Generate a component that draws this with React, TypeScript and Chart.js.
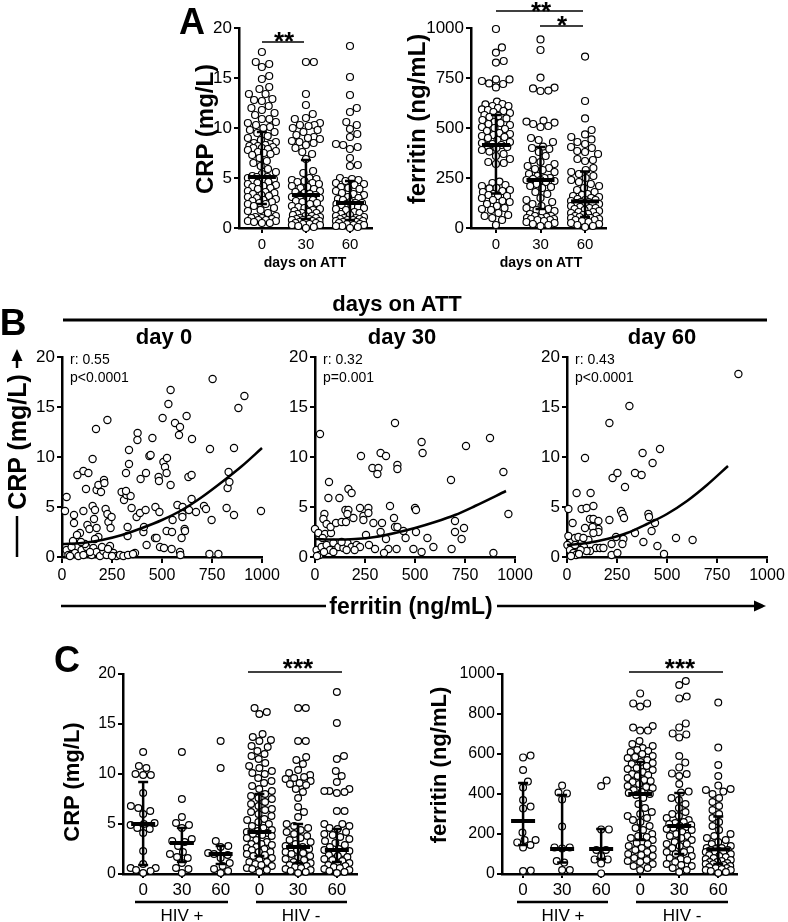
import React, { useEffect, useRef } from "react";
import { Chart, registerables } from "chart.js";
Chart.register(...registerables);

const FONT = "'Liberation Sans', Arial, Helvetica, sans-serif";

// ---------------- Panel A : dot plots by days on ATT ----------------
const dayTicks = ["0", "30", "60"];
const crpA_d0 = [17.6,16.6,16.4,16.1,15.2,14.9,14.1,13.9,13.4,13.4,12.9,12.8,12.7,12.2,12.0,11.8,11.5,11.3,10.9,10.9,10.6,10.5,10.3,10.1,10.0,9.8,9.6,9.5,9.2,9.0,8.8,8.6,8.5,8.4,8.3,8.2,8.2,8.1,8.0,8.0,7.9,7.8,7.7,7.6,7.5,7.4,7.3,7.0,6.7,6.5,6.2,5.9,5.6,5.4,5.2,5.1,5.1,5.0,4.9,4.8,4.7,4.6,4.5,4.4,4.3,4.2,4.1,4.0,3.9,3.7,3.6,3.5,3.4,3.3,3.2,3.1,3.0,2.9,2.8,2.7,2.6,2.5,2.4,2.4,2.2,2.0,1.8,1.7,1.5,1.2,1.1,1.0,1.0,0.9,0.8,0.8,0.7,0.7,0.6,0.5,0.5];
const crpA_d30 = [16.6,16.6,13.4,12.3,11.4,11.0,10.9,10.5,10.3,10.3,10.2,10.0,9.8,9.6,9.3,9.1,9.0,8.9,8.7,8.6,8.5,8.3,8.0,7.6,7.4,6.9,5.7,5.5,5.0,4.9,4.8,4.7,4.6,4.5,4.4,4.2,4.1,4.0,3.9,3.7,3.6,3.5,3.4,3.3,3.2,3.1,3.0,2.9,2.8,2.7,2.6,2.5,2.4,2.2,2.1,2.0,1.9,1.8,1.7,1.6,1.5,1.5,1.4,1.3,1.2,1.2,1.1,1.0,1.0,0.9,0.9,0.8,0.8,0.7,0.7,0.6,0.6,0.5,0.5,0.4,0.4,0.3,0.3,0.2,0.1,0.0];
const crpA_d60 = [18.2,15.1,13.3,12.0,11.6,10.6,10.3,9.9,9.4,9.1,8.4,8.3,8.1,7.9,7.0,6.3,6.2,5.0,4.9,4.8,4.7,4.5,4.4,4.3,4.1,4.0,3.9,3.7,3.5,3.4,3.3,3.1,3.0,2.9,2.8,2.6,2.5,2.5,2.4,2.4,2.3,2.2,2.1,2.0,1.9,1.8,1.6,1.5,1.4,1.3,1.2,1.1,1.0,1.0,0.9,0.9,0.8,0.8,0.7,0.7,0.6,0.6,0.5,0.5,0.4,0.4,0.3,0.3,0.2,0.2,0.1,0.0];
const crpA_median = [5.1, 3.3, 2.5];
const crpA_q1 = [2.4, 0.9, 0.8];
const crpA_q3 = [9.6, 6.8, 4.7];

const ferA_d0 = [995,903,877,835,827,743,743,735,723,720,703,632,620,618,610,610,600,593,590,585,580,575,565,560,555,548,540,530,525,520,515,505,500,495,485,475,470,465,460,455,450,440,430,425,420,415,410,405,400,390,382,370,360,345,330,325,320,232,225,215,210,200,198,190,185,180,170,165,160,160,150,140,135,130,120,110,100,95,90,75,65,60,50,40,15];
const ferA_d30 = [943,890,752,702,698,687,685,537,532,527,520,510,505,450,440,430,407,400,395,380,360,340,330,320,310,300,295,290,280,270,260,250,250,245,240,240,235,230,220,210,205,200,180,170,150,140,130,120,110,100,95,90,85,80,70,60,60,55,50,50,45,45,40,40,35,30,25,20,15,10];
const ferA_d60 = [857,635,548,490,468,455,443,430,420,405,400,385,380,370,345,340,335,300,290,280,270,260,250,240,230,220,210,200,190,180,170,165,160,155,150,145,140,140,135,130,130,125,120,120,115,110,105,100,100,95,90,85,80,80,75,70,65,60,60,55,50,50,50,45,40,40,35,30,25,20,15,10,5];
const ferA_median = [415, 240, 133];
const ferA_q1 = [173, 95, 55];
const ferA_q3 = [565, 405, 283];

// ---------------- Panel B : CRP vs ferritin per day ----------------
const b0Fer = [23,15,60,60,77,107,132,120,107,127,90,137,153,153,165,160,170,173,182,195,173,182,165,210,212,218,227,232,243,248,227,298,310,323,343,320,320,335,335,328,328,348,373,390,418,365,378,377,393,420,407,410,423,437,443,452,465,473,467,487,483,485,503,507,515,525,523,490,510,532,543,543,523,550,548,553,565,585,590,577,603,602,602,590,592,598,613,615,623,632,648,650,648,635,670,710,720,740,753,748,737,782,823,828,837,833,860,860,882,912,995,23,32,48,65,82,98,107,123,148,157,173,190,207,223,240,257,273,290,307,40,140,200,230,115,55,75,95,250,330,355];
const b0Crp = [6.0,4.6,4.2,3.4,8.2,8.6,8.4,6.8,4.6,3.2,2.4,2.8,9.8,5.1,4.7,3.8,12.8,6.7,7.2,6.5,2.9,2.0,1.8,7.7,7.4,4.8,4.3,3.5,2.9,4.0,13.7,6.5,5.7,6.2,6.1,6.6,8.4,9.3,10.7,3.0,2.1,4.9,4.0,4.4,4.7,0.4,12.4,11.7,7.8,8.4,2.5,3.0,1.2,10.1,10.2,11.9,1.9,1.9,5.0,4.5,8.0,7.6,13.9,9.5,9.0,9.9,8.4,1.0,0.9,15.3,16.7,7.2,2.6,2.5,0.8,3.7,13.4,12.2,13.0,5.2,5.0,4.3,4.0,0.5,0.2,1.9,2.8,2.6,14.1,8.0,8.2,11.8,5.8,4.7,4.5,5.1,4.8,10.8,17.8,3.7,0.3,0.3,4.9,6.9,7.5,8.5,4.2,10.9,14.9,16.1,4.6,0.7,0.2,1.0,0.4,0.1,0.7,0.2,1.0,0.2,0.9,0.5,0.1,0.6,0.2,1.1,0.4,0.1,0.2,0.1,0.1,0.5,1.0,0.8,1.3,1.6,2.2,1.5,0.1,0.2,0.3];
const b30Fer = [25,0,17,47,42,58,50,38,70,67,80,78,105,122,133,155,152,167,162,167,183,192,225,242,242,230,267,267,255,287,317,312,328,355,292,335,328,355,375,400,412,412,395,400,412,442,453,500,505,505,533,538,562,592,680,700,700,745,733,755,875,942,967,892,683,492,408,367,345,300,533,8,22,33,58,75,92,117,142,162,183,208,225,92,133,158,10,45,198,270];
const b30Crp = [12.3,2.8,2.4,4.3,3.8,3.3,2.3,1.9,7.5,5.9,2.4,3.0,3.4,5.9,3.5,3.5,4.7,4.7,4.3,6.8,6.4,3.9,4.9,4.1,3.7,10.1,4.9,4.4,2.2,8.9,8.9,8.3,10.4,10.1,3.4,3.4,2.5,1.8,5.1,13.4,9.2,8.8,3.9,3.0,3.0,2.6,1.9,4.9,4.7,2.5,11.5,10.4,1.9,1.0,7.7,3.6,2.5,2.9,1.8,11.1,11.9,8.5,4.3,0.4,0.8,0.8,0.8,0.8,0.4,0.8,0.5,0.7,0.2,1.0,1.2,0.7,1.4,1.0,0.9,1.4,1.0,1.2,1.0,0.5,1.5,0.7,0.1,0.5,0.7,1.2];
const b60Fer = [857,312,212,90,378,465,428,228,252,340,373,290,48,118,7,73,98,132,28,115,132,157,212,270,277,285,407,410,440,340,423,157,157,90,128,7,40,57,245,282,223,277,382,452,545,628,485,223,252,145,165,182,115,2,15,32,45,57,73,85,98,68,40,107,82,132,20,60];
const b60Crp = [18.3,15.1,13.4,9.9,10.4,10.8,9.4,7.9,8.4,8.4,8.2,7.0,6.4,6.4,4.8,4.8,4.9,5.1,3.4,3.8,3.8,3.6,3.7,4.6,4.3,3.9,4.3,4.0,3.4,2.4,2.6,2.8,2.5,2.9,3.0,2.1,1.9,2.0,2.0,1.8,1.3,1.3,1.5,1.1,1.9,1.7,0.3,0.2,0.4,0.9,0.9,0.9,0.6,1.2,0.7,0.4,0.2,1.0,1.4,1.0,0.6,0.7,1.2,1.7,1.9,2.4,0.1,0.3];
const fit0X = [0,100,200,300,400,500,600,700,800,900,1000];
const fit0Y = [1.3,1.4,1.7,2.2,2.9,3.7,4.7,6.0,7.5,9.1,10.9];
const fit30X = [0,100,200,300,400,500,600,700,800,955];
const fit30Y = [1.8,1.75,1.8,2.0,2.4,2.9,3.5,4.2,5.1,6.6];
const fit60X = [0,100,200,300,400,500,600,700,805];
const fit60Y = [1.2,1.4,1.8,2.4,3.3,4.3,5.6,7.2,9.1];
const dayTitles = ["day 0", "day 30", "day 60"];
const corrR = ["r: 0.55", "r: 0.32", "r: 0.43"];
const corrP = ["p<0.0001", "p=0.001", "p<0.0001"];

// ---------------- Panel C : split by HIV status ----------------
const hivTicks = ["0", "30", "60", "0", "30", "60"];
const crpC_pos0 = [12.2,10.8,10.6,10.0,9.9,9.9,8.1,6.8,6.6,6.3,6.0,5.1,5.0,4.9,4.6,4.5,4.1,2.3,1.0,0.6,0.6,0.4,0.3,0.1];
const crpC_pos30 = [12.2,7.5,5.7,5.1,4.9,4.6,3.5,3.3,3.2,2.8,2.2,2.0,1.7,1.6,1.1,0.6,0.5,0.1];
const crpC_pos60 = [13.3,10.6,3.3,2.8,2.7,2.1,2.0,1.9,1.6,1.1,0.8,0.5,0.3,0.1];
const crpC_neg0 = [16.6,16.2,16.0,14.0,13.7,13.4,13.3,12.8,12.7,12.3,12.0,11.8,11.5,11.1,10.8,10.6,10.3,10.1,10.0,9.6,9.3,9.1,8.8,8.5,8.3,8.0,7.8,7.6,7.5,7.2,7.0,6.8,6.5,6.4,6.2,6.0,5.8,5.5,5.4,5.2,5.0,4.8,4.6,4.4,4.3,4.2,4.1,4.0,3.9,3.8,3.6,3.4,3.2,3.0,3.0,2.9,2.7,2.6,2.5,2.4,2.2,2.2,2.0,1.9,1.8,1.6,1.4,1.2,1.2,1.0,0.9,0.8,0.6,0.5,0.4,0.2];
const crpC_neg30 = [16.6,16.6,13.3,13.3,11.7,11.4,11.0,10.4,10.1,9.9,9.7,9.6,9.5,9.3,9.1,9.0,8.9,8.5,8.2,7.6,6.7,6.2,5.7,5.0,4.8,4.6,4.4,4.2,4.0,3.8,3.6,3.4,3.2,3.0,2.8,2.7,2.6,2.5,2.4,2.2,2.1,2.0,1.8,1.6,1.5,1.4,1.2,1.1,1.0,0.9,0.8,0.7,0.6,0.5,0.4,0.3,0.2,0.1];
const crpC_neg60 = [18.2,15.1,11.8,11.5,10.3,9.8,9.2,8.5,8.3,8.3,8.2,8.1,6.3,6.3,5.0,5.0,4.8,4.6,4.5,4.2,4.0,3.9,3.7,3.5,3.3,3.1,2.9,2.7,2.5,2.4,2.3,2.2,2.1,1.9,1.8,1.7,1.5,1.4,1.3,1.1,1.0,0.9,0.8,0.7,0.6,0.5,0.4,0.3,0.2,0.1];
const crpC_median = [5.0, 3.1, 2.0, 4.2, 2.7, 2.4];
const crpC_q1 = [0.9, 1.2, 1.0, 1.8, 1.1, 1.2];
const crpC_q3 = [9.2, 4.6, 2.8, 8.0, 5.0, 4.5];

const ferC_pos0 = [592,583,520,462,432,370,337,328,207,170,170,158,145,133,17,15];
const ferC_pos30 = [442,407,403,373,237,133,133,128,65,57,20,20];
const ferC_pos60 = [467,440,223,223,120,120,90,73,73,53,3];
const ferC_neg0 = [903,853,853,837,740,732,717,717,665,650,640,630,620,615,610,600,590,585,580,570,560,555,550,540,530,525,520,510,500,495,490,480,470,465,460,450,440,435,430,420,410,405,400,395,380,350,330,310,300,290,280,270,260,240,230,220,200,190,185,180,170,160,155,150,140,130,125,120,110,100,95,90,80,70,65,60,50,40,30,20];
const ferC_neg30 = [965,945,887,878,753,733,703,698,683,590,557,533,503,500,490,450,412,407,380,370,350,330,310,300,290,280,270,260,255,250,245,240,235,230,225,220,210,200,190,190,180,170,160,150,150,140,130,120,110,110,100,90,80,75,70,60,50,45,40,30,20,10];
const ferC_neg60 = [857,632,545,490,442,425,420,412,400,380,360,340,320,300,280,260,240,220,200,190,180,170,160,150,140,130,130,125,120,120,115,110,110,105,100,95,90,85,80,75,70,65,60,60,55,50,50,45,40,40,35,30,30,25,20,20,15,10,5];
const ferC_median = [265, 125, 125, 400, 240, 123];
const ferC_q1 = [145, 58, 75, 170, 100, 50];
const ferC_q3 = [455, 395, 225, 560, 405, 287];

// ---------------- helpers ----------------
// beeswarm offsets (pixels) limited to +-maxHalf; overlaps allowed when a row is full
function swarm(values: number[], pxPerY: number, d: number, maxHalf: number): number[] {
  const order = values.map((_, i) => i).sort((a, b) => values[a] - values[b]);
  const placed: { x: number; y: number }[] = [];
  const out: number[] = new Array(values.length).fill(0);
  for (const i of order) {
    const y = values[i] * pxPerY;
    const near = placed.filter((p) => Math.abs(p.y - y) < d);
    const cands = [0];
    for (const p of near) {
      const dx = Math.sqrt(d * d - (p.y - y) * (p.y - y));
      cands.push(p.x + dx, p.x - dx);
    }
    const ok = cands.filter((c) => Math.abs(c) <= maxHalf).sort((a, b) => Math.abs(a) - Math.abs(b));
    let chosen: number | null = null;
    for (const c of ok) {
      if (near.every((p) => (p.x - c) ** 2 + (p.y - y) ** 2 >= d * d - 0.01)) { chosen = c; break; }
    }
    if (chosen === null) {
      let best = 0, bestScore = -1;
      for (let c = -maxHalf; c <= maxHalf + 1e-6; c += 0.5) {
        let m = Infinity;
        for (const p of near) m = Math.min(m, Math.hypot(p.x - c, p.y - y));
        if (m > bestScore + 1e-6 || (Math.abs(m - bestScore) < 1e-6 && Math.abs(c) < Math.abs(best))) { bestScore = m; best = c; }
      }
      chosen = best;
    }
    placed.push({ x: chosen, y });
    out[i] = chosen;
  }
  return out;
}

function axis(o: { min: number; max: number; step?: number; tickVals?: number[]; labels?: string[]; size: number; font: number; tickLen: number; pad: number; isX: boolean }) {
  const a: any = {
    type: "linear",
    min: o.min,
    max: o.max,
    afterFit: (s: any) => {
      if (o.isX) s.height = o.size; else s.width = o.size;
      s.paddingLeft = 0; s.paddingRight = 0; s.paddingTop = 0; s.paddingBottom = 0;
    },
    ticks: {
      stepSize: o.step,
      color: "#000",
      font: { family: FONT, size: o.font },
      padding: o.pad,
      autoSkip: false,
      maxRotation: 0,
      callback: o.labels ? (v: any) => o.labels![Math.round(v)] ?? "" : (v: any) => String(v),
    },
    grid: { display: true, drawOnChartArea: false, drawTicks: true, tickLength: o.tickLen, color: "#000", lineWidth: 2 },
    border: { display: true, color: "#000", width: 2.5 },
  };
  if (o.tickVals) a.afterBuildTicks = (s: any) => { s.ticks = o.tickVals!.map((v) => ({ value: v })); };
  return a;
}

type DotSpec = {
  cols: number[][]; labels: string[]; med: number[]; q1: number[]; q3: number[];
  xMin: number; xMax: number; yMax: number; yStep: number;
  w: number; h: number; yW: number; xH: number; padTop: number; padRight: number;
  r: number; spread: number; medHalf: number; capHalf: number; yFont: number; xFont: number; xTickLen: number; xPad: number;
};

function dotConfig(s: DotSpec): any {
  const plotW = s.w - s.yW - s.padRight;
  const plotH = s.h - s.padTop - s.xH;
  const pxX = plotW / (s.xMax - s.xMin);
  const pxY = plotH / s.yMax;
  const D = 2 * s.r + 0.9;
  const datasets = s.cols.map((col, ci) => {
    const off = swarm(col, pxY, D, s.spread);
    return {
      data: col.map((v, k) => ({ x: ci + off[k] / pxX, y: v })),
      pointRadius: s.r, pointBorderWidth: 1.2, pointBorderColor: "#000", pointBackgroundColor: "#fff", clip: false,
    };
  });
  const summary = {
    id: "summary",
    afterDatasetsDraw(chart: any) {
      const { ctx } = chart; const x = chart.scales.x; const y = chart.scales.y;
      ctx.save(); ctx.strokeStyle = "#000";
      s.med.forEach((m, i) => {
        const cx = x.getPixelForValue(i);
        const ym = y.getPixelForValue(m), y1 = y.getPixelForValue(s.q1[i]), y3 = y.getPixelForValue(s.q3[i]);
        ctx.lineWidth = 2.5; ctx.beginPath();
        ctx.moveTo(cx, y1); ctx.lineTo(cx, y3);
        ctx.moveTo(cx - s.capHalf, y1); ctx.lineTo(cx + s.capHalf, y1);
        ctx.moveTo(cx - s.capHalf, y3); ctx.lineTo(cx + s.capHalf, y3);
        ctx.stroke();
        ctx.lineWidth = 4; ctx.beginPath();
        ctx.moveTo(cx - s.medHalf, ym); ctx.lineTo(cx + s.medHalf, ym); ctx.stroke();
      });
      ctx.restore();
    },
  };
  return {
    type: "scatter",
    data: { datasets },
    options: {
      responsive: false, animation: false, events: [],
      layout: { padding: { top: s.padTop, right: s.padRight, left: 0, bottom: 0 } },
      plugins: { legend: { display: false }, tooltip: { enabled: false } },
      scales: {
        x: axis({ min: s.xMin, max: s.xMax, tickVals: s.labels.map((_, i) => i), labels: s.labels, size: s.xH, font: s.xFont, tickLen: s.xTickLen, pad: s.xPad, isX: true }),
        y: axis({ min: 0, max: s.yMax, step: s.yStep, size: s.yW, font: s.yFont, tickLen: 5, pad: 2, isX: false }),
      },
    },
    plugins: [summary],
  };
}

function scatterConfig(fer: number[], crp: number[], fx: number[], fy: number[]): any {
  return {
    type: "scatter",
    data: {
      datasets: [
        { type: "line", data: fx.map((x, i) => ({ x, y: fy[i] })), borderColor: "#000", borderWidth: 2.5, pointRadius: 0, cubicInterpolationMode: "monotone", fill: false, clip: false },
        { data: fer.map((x, i) => ({ x, y: crp[i] })), pointRadius: 3.6, pointBorderWidth: 1.2, pointBorderColor: "#000", pointBackgroundColor: "#fff", clip: false },
      ],
    },
    options: {
      responsive: false, animation: false, events: [],
      layout: { padding: { top: 12, right: 21, left: 0, bottom: 0 } },
      plugins: { legend: { display: false }, tooltip: { enabled: false } },
      scales: {
        x: axis({ min: 0, max: 1000, step: 250, size: 28, font: 16, tickLen: 6, pad: 3, isX: true }),
        y: axis({ min: 0, max: 20, step: 5, size: 50, font: 17, tickLen: 5, pad: 2, isX: false }),
      },
    },
  };
}

function ChartBox({ left, top, width, height, make }: { left: number; top: number; width: number; height: number; make: () => any }) {
  const ref = useRef<HTMLCanvasElement>(null);
  useEffect(() => {
    const chart = new Chart(ref.current as HTMLCanvasElement, make());
    return () => chart.destroy();
  }, []);
  return (
    <div style={{ position: "absolute", left, top, width, height }}>
      <canvas ref={ref} width={width} height={height} style={{ width, height, display: "block" }} />
    </div>
  );
}

function Txt({ x, y, size, bold = false, rot = false, left = false, children }: any) {
  const tr = `${left ? "translate(0,-50%)" : "translate(-50%,-50%)"}${rot ? " rotate(-90deg)" : ""}`;
  return (
    <div style={{ position: "absolute", left: x, top: y, transform: tr, fontFamily: FONT, fontSize: size, fontWeight: bold ? 700 : 400, lineHeight: 1, whiteSpace: "nowrap", color: "#000" }}>
      {children}
    </div>
  );
}

// asterisks: centre the glyph (which sits high in the line box)
function Stars({ x, y, n }: { x: number; y: number; n: number }) {
  return <Txt x={x} y={y + 0.225 * 26} size={26} bold>{"*".repeat(n)}</Txt>;
}

export default function App() {
  const A1 = dotConfig({ cols: [crpA_d0, crpA_d30, crpA_d60], labels: dayTicks, med: crpA_median, q1: crpA_q1, q3: crpA_q3, xMin: -0.52, xMax: 2.5, yMax: 20, yStep: 5, w: 190, h: 262, yW: 49, xH: 34, padTop: 28, padRight: 8, r: 3.5, spread: 14, medHalf: 14, capHalf: 5, yFont: 17, xFont: 15, xTickLen: 5, xPad: 3 });
  const A2 = dotConfig({ cols: [ferA_d0, ferA_d30, ferA_d60], labels: dayTicks, med: ferA_median, q1: ferA_q1, q3: ferA_q3, xMin: -0.56, xMax: 2.47, yMax: 1000, yStep: 250, w: 196, h: 262, yW: 51, xH: 34, padTop: 28, padRight: 10, r: 3.5, spread: 14, medHalf: 14, capHalf: 5, yFont: 17, xFont: 15, xTickLen: 5, xPad: 3 });
  const C1 = dotConfig({ cols: [crpC_pos0, crpC_pos30, crpC_pos60, crpC_neg0, crpC_neg30, crpC_neg60], labels: hivTicks, med: crpC_median, q1: crpC_q1, q3: crpC_q3, xMin: -0.52, xMax: 5.52, yMax: 20, yStep: 5, w: 294, h: 250, yW: 50, xH: 24, padTop: 26, padRight: 10, r: 3.4, spread: 12.5, medHalf: 12, capHalf: 5, yFont: 16, xFont: 17, xTickLen: 4, xPad: 2 });
  const C2 = dotConfig({ cols: [ferC_pos0, ferC_pos30, ferC_pos60, ferC_neg0, ferC_neg30, ferC_neg60], labels: hivTicks, med: ferC_median, q1: ferC_q1, q3: ferC_q3, xMin: -0.54, xMax: 5.48, yMax: 1000, yStep: 200, w: 295, h: 250, yW: 50, xH: 24, padTop: 26, padRight: 10, r: 3.4, spread: 12.5, medHalf: 12, capHalf: 5, yFont: 16, xFont: 17, xTickLen: 4, xPad: 2 });
  const bLefts = [12, 265, 517];
  const bAxis = [62, 315, 567];
  const bFits = [[fit0X, fit0Y], [fit30X, fit30Y], [fit60X, fit60Y]];
  const bData = [[b0Fer, b0Crp], [b30Fer, b30Crp], [b60Fer, b60Crp]];
  const dayCenters = [164, 402, 662];

  return (
    <div style={{ position: "absolute", left: 0, top: 0, width: 788, height: 922, overflow: "hidden", background: "#fff" }}>
      <ChartBox left={190} top={0} width={190} height={262} make={() => A1} />
      <ChartBox left={420} top={0} width={196} height={262} make={() => A2} />
      {bLefts.map((l, i) => (
        <ChartBox key={i} left={l} top={345} width={271} height={240} make={() => scatterConfig(bData[i][0], bData[i][1], bFits[i][0], bFits[i][1])} />
      ))}
      <ChartBox left={73} top={648} width={294} height={250} make={() => C1} />
      <ChartBox left={452} top={648} width={295} height={250} make={() => C2} />

      <svg width={788} height={922} style={{ position: "absolute", left: 0, top: 0, pointerEvents: "none" }}>
        <g stroke="#000" fill="none">
          <line x1={262} y1={42} x2={304} y2={42} strokeWidth={1.6} />
          <line x1={496} y1={11} x2={583} y2={11} strokeWidth={1.6} />
          <line x1={540} y1={26} x2={583} y2={26} strokeWidth={1.6} />
          <line x1={63} y1={320} x2={767} y2={320} strokeWidth={3} />
          <line x1={61} y1={606} x2={326} y2={606} strokeWidth={2.5} />
          <line x1={497} y1={606} x2={756} y2={606} strokeWidth={2.5} />
          <line x1={17} y1={557} x2={17} y2={516} strokeWidth={2.5} />
          <line x1={17} y1={368} x2={17} y2={358} strokeWidth={2.5} />
          <line x1={248} y1={672} x2={342} y2={672} strokeWidth={1.5} />
          <line x1={629} y1={672} x2={723} y2={672} strokeWidth={1.5} />
          <line x1={135} y1={902} x2={228} y2={902} strokeWidth={2.5} />
          <line x1={256} y1={902} x2={347} y2={902} strokeWidth={2.5} />
          <line x1={517} y1={902} x2={608} y2={902} strokeWidth={2.5} />
          <line x1={636} y1={902} x2={728} y2={902} strokeWidth={2.5} />
        </g>
        <polygon points="766,606 754,600.5 754,611.5" fill="#000" />
        <polygon points="17,349 11.5,361 22.5,361" fill="#000" />
      </svg>

      {/* Panel A texts */}
      <Txt x={192} y={22} size={36} bold>A</Txt>
      <Txt x={205} y={129} size={24} bold rot>CRP (mg/L)</Txt>
      <Txt x={417} y={119} size={24} bold rot>ferritin (ng/mL)</Txt>
      <Txt x={305} y={262} size={14} bold>days on ATT</Txt>
      <Txt x={541} y={262} size={14} bold>days on ATT</Txt>
      <Stars x={284} y={35} n={2} />
      <Stars x={541} y={5} n={2} />
      <Stars x={562} y={19} n={1} />

      {/* Panel B texts */}
      <Txt x={13} y={322} size={37} bold>B</Txt>
      <Txt x={397} y={304} size={22} bold>days on ATT</Txt>
      {dayTitles.map((t, i) => (
        <Txt key={t} x={dayCenters[i]} y={337} size={22} bold>{t}</Txt>
      ))}
      {corrR.map((t, i) => (
        <Txt key={"r" + i} x={bAxis[i] + 8} y={359} size={14} left>{t}</Txt>
      ))}
      {corrP.map((t, i) => (
        <Txt key={"p" + i} x={bAxis[i] + 8} y={377} size={14} left>{t}</Txt>
      ))}
      <Txt x={17} y={442} size={25} bold rot>CRP (mg/L)</Txt>
      <Txt x={411} y={606} size={23} bold>ferritin (ng/mL)</Txt>

      {/* Panel C texts */}
      <Txt x={67} y={660} size={36} bold>C</Txt>
      <Txt x={72} y={782} size={22} bold rot>CRP (mg/L)</Txt>
      <Txt x={439} y={765} size={22} bold rot>ferritin (ng/mL)</Txt>
      <Stars x={298} y={662} n={3} />
      <Stars x={680} y={662} n={3} />
      <Txt x={182} y={915} size={17}>HIV +</Txt>
      <Txt x={301} y={915} size={17}>HIV -</Txt>
      <Txt x={563} y={915} size={17}>HIV +</Txt>
      <Txt x={682} y={915} size={17}>HIV -</Txt>
    </div>
  );
}
